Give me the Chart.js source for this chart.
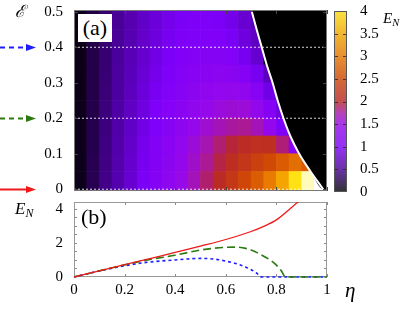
<!DOCTYPE html>
<html>
<head>
<meta charset="utf-8">
<script src="https://cdn.jsdelivr.net/npm/chart.js@4.4.0/dist/chart.umd.min.js"></script>
<style>
  body { margin: 0; background: #fff; }
  #wrap { position: relative; width: 415px; height: 311px; overflow: hidden; font-family: "Liberation Serif", serif; }
  #wrap canvas { position: absolute; left: 0; top: 0; }
  .lbl { position: absolute; color: #000; white-space: nowrap; line-height: 1; }
  .lbl sub { font-size: 70%; vertical-align: -0.25em; }
</style>
</head>
<body>
<div id="wrap">
  <canvas id="heat" width="415" height="311"></canvas>
  <canvas id="cbar" width="415" height="311"></canvas>
  <canvas id="curves" width="415" height="311"></canvas>
  <div class="lbl" style="left:78px;top:14px;width:34px;height:28px;line-height:28px;text-align:center;background:#fff;font-size:22px">(a)</div>
  <div class="lbl" style="left:81px;top:206px;font-size:22px">(b)</div>
  <div class="lbl" style="left:15px;top:3px;font-size:17px;font-family:'DejaVu Serif',serif;font-style:italic">ℰ</div>
  <div class="lbl" style="left:383px;top:11px;font-size:15px;font-style:italic">E<sub>N</sub></div>
  <div class="lbl" style="left:15px;top:200px;font-size:17px;font-style:italic">E<sub>N</sub></div>
  <div class="lbl" style="left:345px;top:280px;font-size:21px;font-style:italic">η</div>
</div>
<script>
// heat map cells: centres in eta (columns) and epsilon (rows), E_N
const etaCells = [0.025, 0.075, 0.125, 0.175, 0.225, 0.275, 0.325, 0.375, 0.425, 0.475,
                  0.525, 0.575, 0.625, 0.675, 0.725, 0.775, 0.825, 0.875, 0.925, 0.975];
const epsCells = [0.025, 0.075, 0.125, 0.175, 0.225, 0.275, 0.325, 0.375, 0.425, 0.475];
const enGrid = [
  [0.09, 0.27, 0.45, 0.62, 0.80, 0.98, 1.15, 1.33, 1.51, 1.69, 1.87, 2.05, 2.25, 2.47, 2.72, 3.03, 3.45, 4.00, 4.60, 5.00],
  [0.09, 0.27, 0.44, 0.61, 0.78, 0.95, 1.12, 1.29, 1.46, 1.63, 1.79, 1.94, 2.08, 2.22, 2.37, 2.52, 2.70, 2.90, 2.70, 0],
  [0.09, 0.26, 0.43, 0.60, 0.76, 0.93, 1.09, 1.25, 1.41, 1.57, 1.72, 1.86, 1.97, 2.06, 2.12, 2.10, 1.85, 1.20, 0, 0],
  [0.09, 0.26, 0.42, 0.58, 0.74, 0.90, 1.05, 1.20, 1.34, 1.48, 1.60, 1.70, 1.77, 1.79, 1.70, 1.45, 1.00, 0, 0, 0],
  [0.09, 0.25, 0.41, 0.57, 0.72, 0.87, 1.01, 1.15, 1.27, 1.38, 1.48, 1.55, 1.59, 1.57, 1.44, 1.15, 0.85, 0, 0, 0],
  [0.08, 0.25, 0.40, 0.55, 0.70, 0.84, 0.97, 1.09, 1.20, 1.30, 1.37, 1.42, 1.43, 1.37, 1.20, 0.90, 0, 0, 0, 0],
  [0.08, 0.24, 0.39, 0.54, 0.68, 0.81, 0.93, 1.04, 1.13, 1.21, 1.27, 1.29, 1.27, 1.15, 0.95, 0.70, 0, 0, 0, 0],
  [0.08, 0.24, 0.38, 0.52, 0.66, 0.78, 0.89, 0.99, 1.07, 1.13, 1.16, 1.16, 1.09, 0.95, 0.78, 0, 0, 0, 0, 0],
  [0.08, 0.23, 0.37, 0.51, 0.64, 0.76, 0.86, 0.95, 1.02, 1.06, 1.08, 1.05, 0.98, 0.86, 0.72, 0, 0, 0, 0, 0],
  [0.08, 0.23, 0.37, 0.50, 0.63, 0.74, 0.84, 0.92, 0.98, 1.02, 1.02, 0.99, 0.92, 0.80, 0.68, 0, 0, 0, 0, 0]
];

// white boundary curve (E_N = 0 beyond it)
const boundaryEps = [0.5, 0.45, 0.4, 0.35, 0.3, 0.25, 0.2, 0.15, 0.1, 0.05, 0];
const boundaryEta = [0.703, 0.722, 0.742, 0.762, 0.785, 0.805, 0.828, 0.855, 0.89, 0.935, 0.985];

// cuts shown in panel (b)
const sliceEps = [0, 0.2, 0.4];
const redEta = [0, 0.1, 0.2, 0.3, 0.4, 0.5, 0.6, 0.7, 0.75, 0.8, 0.85, 0.9];
const redEN = [0, 0.36, 0.72, 1.08, 1.44, 1.81, 2.2, 2.67, 2.97, 3.35, 3.95, 4.6];
const greenEta = [0, 0.1, 0.2, 0.3, 0.4, 0.5, 0.55, 0.6, 0.65, 0.7, 0.75, 0.78, 0.8, 0.82, 0.836, 0.9, 1.0];
const greenEN = [0, 0.36, 0.71, 1.03, 1.28, 1.58, 1.68, 1.74, 1.75, 1.58, 1.22, 0.95, 0.7, 0.35, 0, 0, 0];
const blueEta = [0, 0.1, 0.2, 0.3, 0.4, 0.45, 0.5, 0.55, 0.6, 0.65, 0.7, 0.72, 0.743, 0.8, 0.9, 1.0];
const blueEN = [0, 0.35, 0.66, 0.88, 1.0, 1.06, 1.09, 1.06, 0.93, 0.74, 0.43, 0.25, 0, 0, 0, 0];

const etaTicks = [0, 0.2, 0.4, 0.6, 0.8, 1];
const epsTicks = [0, 0.1, 0.2, 0.3, 0.4, 0.5];
const enTicks = [0, 2, 4];
const enMinor = [0.5, 1, 1.5, 2, 2.5, 3, 3.5, 4];
const cbTicks = [0, 0.5, 1, 1.5, 2, 2.5, 3, 3.5, 4];

const sliceColors = ['#f01818', '#2c7a12', '#1e1eff'];
const sliceDash = [[], [8, 4], [3, 3]];

const palette = [
  [0, [0, 0, 0]], [0.5, [72, 0, 150]], [1.0, [125, 0, 250]], [1.5, [150, 8, 235]],
  [1.75, [168, 22, 170]], [2.0, [185, 40, 40]], [2.5, [208, 72, 5]], [3.0, [232, 120, 0]],
  [3.5, [245, 170, 0]], [4.0, [255, 225, 20]], [4.5, [255, 250, 170]], [5.0, [255, 255, 255]]
];

function rgbFor(v) {
  if (v <= palette[0][0]) return palette[0][1];
  for (let i = 1; i < palette.length; i++) {
    if (v <= palette[i][0]) {
      const [a, ca] = palette[i - 1], [b, cb] = palette[i];
      const t = (v - a) / (b - a);
      return ca.map((c, k) => Math.round(c + (cb[k] - c) * t));
    }
  }
  return palette[palette.length - 1][1];
}
const css = c => `rgb(${c[0]},${c[1]},${c[2]})`;
const muted = c => css(c.map(x => Math.round(x * 0.78 + 50)));
const plain = v => String(Math.round(v * 100) / 100);
const tickFont = '15px "Liberation Serif", serif';

// frame with inward ticks, gnuplot style
const panelFrame = {
  id: 'panelFrame',
  draw(chart, o) {
    const { ctx, chartArea: a, scales } = chart;
    ctx.save();
    ctx.lineWidth = 1;
    ctx.strokeStyle = o.tickColor;
    ctx.beginPath();
    (o.xTicks || []).forEach(v => {
      const x = Math.round(scales.x.getPixelForValue(v)) + 0.5;
      ctx.moveTo(x, a.bottom); ctx.lineTo(x, a.bottom - o.len);
      ctx.moveTo(x, a.top); ctx.lineTo(x, a.top + o.len);
    });
    (o.yTicks || []).forEach(v => {
      const y = Math.round(scales.y.getPixelForValue(v)) + 0.5;
      ctx.moveTo(a.left, y); ctx.lineTo(a.left + o.len, y);
      ctx.moveTo(a.right, y); ctx.lineTo(a.right - o.len, y);
    });
    ctx.stroke();
    ctx.strokeStyle = o.frameColor;
    ctx.strokeRect(Math.round(a.left) + 0.5, Math.round(a.top) + 0.5, Math.round(a.width) - 1, Math.round(a.height) - 1);
    ctx.restore();
  },
  beforeDatasetsDraw(chart, args, o) { if (o.behind) this.draw(chart, o); },
  afterDatasetsDraw(chart, args, o) { if (!o.behind) this.draw(chart, o); }
};

// tick labels drawn straight from the scales
const tickText = {
  id: 'tickText',
  afterDraw(chart, args, o) {
    const { ctx, chartArea: a, scales } = chart;
    ctx.save();
    ctx.font = tickFont;
    ctx.fillStyle = '#000';
    (o.y || []).forEach(v => {
      const y = scales.y.getPixelForValue(v);
      ctx.textBaseline = 'middle';
      if (o.ySide === 'right') { ctx.textAlign = 'left'; ctx.fillText(plain(v), a.right + o.yPad, y); }
      else { ctx.textAlign = 'right'; ctx.fillText(plain(v), a.left - o.yPad, y); }
    });
    (o.x || []).forEach(v => {
      const x = scales.x.getPixelForValue(v);
      ctx.textAlign = 'center'; ctx.textBaseline = 'top';
      ctx.fillText(plain(v), x, a.bottom + o.xPad);
    });
    ctx.restore();
  }
};

// arrows left of panel (a) marking the cuts
const sideArrows = {
  id: 'sideArrows',
  afterDraw(chart) {
    const { ctx, scales: { y } } = chart;
    sliceEps.forEach((e, i) => {
      const py = Math.round(y.getPixelForValue(e)) + 0.5;
      ctx.save();
      ctx.strokeStyle = sliceColors[i];
      ctx.fillStyle = sliceColors[i];
      ctx.lineWidth = 2;
      ctx.setLineDash(sliceDash[i].length ? [5, 4] : []);
      ctx.beginPath(); ctx.moveTo(0, py); ctx.lineTo(27, py); ctx.stroke();
      ctx.setLineDash([]);
      ctx.beginPath(); ctx.moveTo(36, py); ctx.lineTo(26, py - 3.5); ctx.lineTo(26, py + 3.5); ctx.closePath(); ctx.fill();
      ctx.restore();
    });
  }
};

const epsMin = -0.005, epsMax = 0.505;

const heatSets = epsCells.map((e, r) => ({
  type: 'bar',
  data: etaCells.map(x => ({ x, y: [r === 0 ? epsMin : e - 0.025, r === epsCells.length - 1 ? epsMax : e + 0.025] })),
  backgroundColor: enGrid[r].map(v => css(rgbFor(v))),
  borderWidth: 0,
  grouped: false,
  barPercentage: 1,
  categoryPercentage: 1,
  order: 10
}));

const boundaryPts = boundaryEta.map((x, i) => ({ x, y: boundaryEps[i] }));
const hiddenAxis = { ticks: { display: false }, grid: { display: false, drawTicks: false }, border: { display: false } };

new Chart(document.getElementById('heat'), {
  type: 'bar',
  data: {
    datasets: heatSets.concat([
      {
        type: 'line', data: boundaryPts.concat([{ x: 1, y: 0 }]),
        borderWidth: 0, pointRadius: 0, backgroundColor: '#000', fill: 'end',
        cubicInterpolationMode: 'monotone', order: 5
      },
      {
        type: 'line', data: boundaryPts, borderColor: '#fff', borderWidth: 2,
        pointRadius: 0, fill: false, cubicInterpolationMode: 'monotone', order: 2
      }
    ], sliceEps.map(e => ({
      type: 'line', data: [{ x: 0, y: e }, { x: 1, y: e }], borderColor: 'rgba(255,255,255,0.85)',
      borderWidth: 1, borderDash: [2, 2], pointRadius: 0, fill: false, order: 1
    })))
  },
  options: {
    responsive: false,
    animation: false,
    layout: { padding: { left: 44, right: 88, top: 10, bottom: 120 } },
    plugins: {
      legend: { display: false },
      tooltip: { enabled: false },
      panelFrame: { xTicks: etaTicks, yTicks: epsTicks, len: 4, tickColor: '#444', frameColor: '#777' },
      tickText: { y: epsTicks, yPad: 11 }
    },
    scales: {
      x: { type: 'linear', min: 0, max: 1, offset: false, display: false, grid: { offset: false } },
      y: Object.assign({ min: epsMin, max: epsMax, afterFit: s => { s.width = 30; } }, hiddenAxis)
    }
  },
  plugins: [panelFrame, sideArrows, tickText]
});

// colour bar
const colorStrip = {
  id: 'colorStrip',
  beforeDatasetsDraw(chart) {
    const { ctx, chartArea: a, scales: { y } } = chart;
    const g = ctx.createLinearGradient(0, y.getPixelForValue(0), 0, y.getPixelForValue(4));
    palette.filter(p => p[0] <= 4).forEach(p => g.addColorStop(p[0] / 4, muted(p[1])));
    ctx.save();
    ctx.fillStyle = g;
    ctx.fillRect(a.left, a.top, a.width, a.height);
    ctx.strokeStyle = 'rgba(50,30,30,0.8)';
    ctx.lineWidth = 1;
    ctx.beginPath();
    cbTicks.slice(1, -1).forEach(v => {
      const py = Math.round(y.getPixelForValue(v)) + 0.5;
      ctx.moveTo(a.left, py); ctx.lineTo(a.left + 4, py);
      ctx.moveTo(a.right, py); ctx.lineTo(a.right - 4, py);
    });
    ctx.stroke();
    ctx.strokeStyle = '#555';
    ctx.strokeRect(Math.round(a.left) + 0.5, Math.round(a.top) + 0.5, Math.round(a.width) - 1, Math.round(a.height) - 1);
    ctx.restore();
  }
};

new Chart(document.getElementById('cbar'), {
  type: 'bar',
  data: { labels: [], datasets: [] },
  options: {
    responsive: false,
    animation: false,
    layout: { padding: { left: 334, right: 28, top: 11, bottom: 119 } },
    plugins: {
      legend: { display: false },
      tooltip: { enabled: false },
      tickText: { y: cbTicks, ySide: 'right', yPad: 13 }
    },
    scales: {
      x: { display: false },
      y: Object.assign({ position: 'right', min: 0, max: 4, afterFit: s => { s.width = 40; } }, hiddenAxis)
    }
  },
  plugins: [colorStrip, tickText]
});

// panel (b)
const cut = (xs, ys) => xs.map((x, i) => ({ x, y: ys[i] }));
const curveSets = [cut(redEta, redEN), cut(greenEta, greenEN), cut(blueEta, blueEN)].map((d, i) => ({
  data: d,
  borderColor: sliceColors[i],
  borderWidth: i === 0 ? 1.3 : 1.6,
  borderDash: sliceDash[i],
  pointRadius: 0,
  fill: false,
  cubicInterpolationMode: 'monotone',
  clip: { left: 0, top: 0, right: 0, bottom: 3 }
}));

new Chart(document.getElementById('curves'), {
  type: 'line',
  data: { datasets: curveSets },
  options: {
    responsive: false,
    animation: false,
    layout: { padding: { left: 54, right: 88, top: 202, bottom: 14 } },
    plugins: {
      legend: { display: false },
      tooltip: { enabled: false },
      panelFrame: { behind: true, xTicks: etaTicks, yTicks: enMinor, len: 3, tickColor: '#888', frameColor: '#999' },
      tickText: { y: enTicks, yPad: 11, x: etaTicks, xPad: 6 }
    },
    scales: {
      x: Object.assign({ type: 'linear', min: 0, max: 1, afterFit: s => { s.height = 20; } }, hiddenAxis),
      y: Object.assign({ min: 0, max: 4.4, afterFit: s => { s.width = 20; } }, hiddenAxis)
    }
  },
  plugins: [panelFrame, tickText]
});
</script>
</body>
</html>
